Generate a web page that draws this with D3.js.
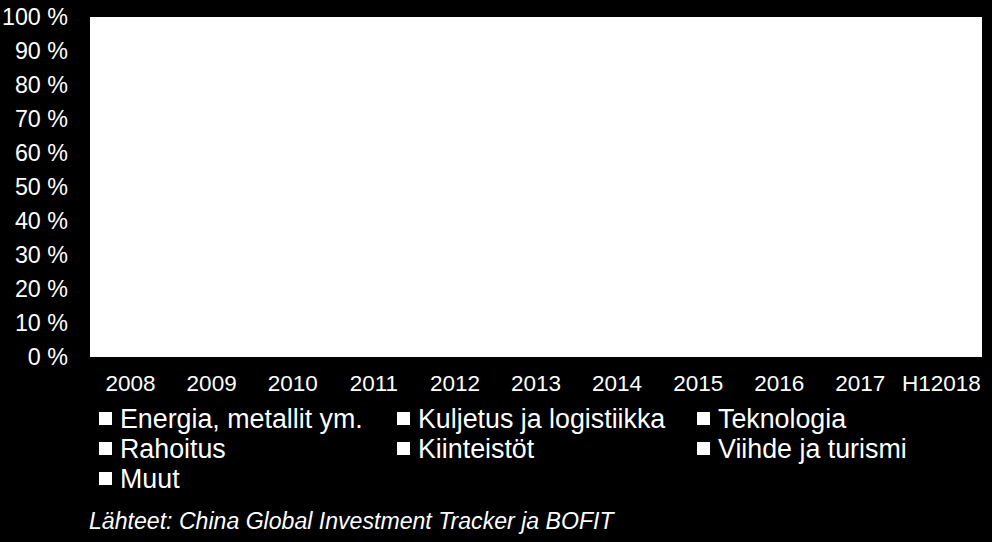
<!DOCTYPE html>
<html>
<head>
<meta charset="utf-8">
<script src="https://cdn.jsdelivr.net/npm/d3@7"></script>
<style>
  html, body { margin: 0; padding: 0; background: #000; }
  svg { display: block; }
  text { font-family: Arial, "Liberation Sans", sans-serif; fill: #fff; }
</style>
</head>
<body>
<div id="viz"></div>
<script>
// categories and series
var years = ["2008", "2009", "2010", "2011", "2012", "2013", "2014", "2015", "2016", "2017", "H12018"];
var seriesNames = ["Energia, metallit ym.", "Kuljetus ja logistiikka", "Teknologia",
                   "Rahoitus", "Kiinteistöt", "Viihde ja turismi", "Muut"];

// shares by sector, % of year's total (bars are drawn white on white, so estimates)
var energia    = [70, 75, 72, 68, 62, 55, 45, 35, 22, 30, 28];
var kuljetus   = [ 8,  6,  7,  9, 10, 12, 12, 15, 14, 18, 20];
var teknologia = [ 4,  3,  4,  5,  6,  7, 10, 14, 20, 16, 18];
var rahoitus   = [10,  8,  8,  7,  8,  8,  9,  9, 10,  8,  9];
var kiinteisto = [ 3,  3,  4,  5,  6,  8, 10, 11, 14,  9,  8];
var viihde     = [ 1,  1,  1,  2,  3,  4,  6,  8, 12,  9,  7];
var muut       = [ 4,  4,  4,  4,  5,  6,  8,  8,  8, 10, 10];

var yTicks = [0, 10, 20, 30, 40, 50, 60, 70, 80, 90, 100];
var sourceText = "Lähteet: China Global Investment Tracker ja BOFIT";

var W = 992, H = 542;
var margin = {top: 17, right: 10, bottom: 185, left: 90},
    width = W - margin.left - margin.right,
    height = H - margin.top - margin.bottom;

var svg = d3.select("#viz").append("svg")
  .attr("width", W).attr("height", H);

var g = svg.append("g")
  .attr("transform", "translate(" + margin.left + "," + margin.top + ")");

// build table for stacking
var cols = [energia, kuljetus, teknologia, rahoitus, kiinteisto, viihde, muut];
var table = years.map(function(y, i) {
  var row = {year: y};
  seriesNames.forEach(function(s, j) { row[s] = cols[j][i]; });
  return row;
});
var stacked = d3.stack().keys(seriesNames).offset(d3.stackOffsetExpand)(table);

var x = d3.scaleBand().domain(years).range([0, width])
  .paddingInner(0.5).paddingOuter(0.25);
var y = d3.scaleLinear().domain([0, 1]).range([height, 0]);

// plot area
g.append("rect")
  .attr("width", width).attr("height", height)
  .attr("fill", "#fff");

// bars (white series)
g.selectAll(".series").data(stacked).enter().append("g")
  .attr("class", "series")
  .attr("fill", "#fff")
  .selectAll("rect").data(function(d) { return d; }).enter().append("rect")
    .attr("x", function(d) { return x(d.data.year); })
    .attr("y", function(d) { return y(d[1]); })
    .attr("height", function(d) { return y(d[0]) - y(d[1]); })
    .attr("width", x.bandwidth());

// Y axis
var yAxis = g.append("g")
  .call(d3.axisLeft(y).tickValues(yTicks.map(function(t) { return t / 100; }))
    .tickFormat(function(d) { return Math.round(d * 100) + " %"; })
    .tickSize(0).tickPadding(22));
yAxis.select(".domain").remove();
yAxis.selectAll("text").style("font-size", "23.3px").attr("fill", "#fff");

// X axis
var xAxis = g.append("g")
  .attr("transform", "translate(0," + height + ")")
  .call(d3.axisBottom(x).tickSize(0).tickPadding(18));
xAxis.select(".domain").remove();
xAxis.selectAll("text").style("font-size", "22.5px").attr("fill", "#fff");

// legend
var legCols = [99, 397, 697];
var legend = svg.append("g");
seriesNames.forEach(function(s, i) {
  var lx = legCols[i % 3], ly = 412 + Math.floor(i / 3) * 30;
  legend.append("rect")
    .attr("x", lx).attr("y", ly).attr("width", 13).attr("height", 13)
    .attr("fill", "#fff");
  legend.append("text")
    .attr("x", lx + 21).attr("y", ly + 6.5)
    .attr("dy", "0.35em")
    .style("font-size", "26.8px")
    .text(s);
});

// source
svg.append("text")
  .attr("x", 89).attr("y", 529)
  .style("font-size", "23.1px").style("font-style", "italic")
  .text(sourceText);
</script>
</body>
</html>
